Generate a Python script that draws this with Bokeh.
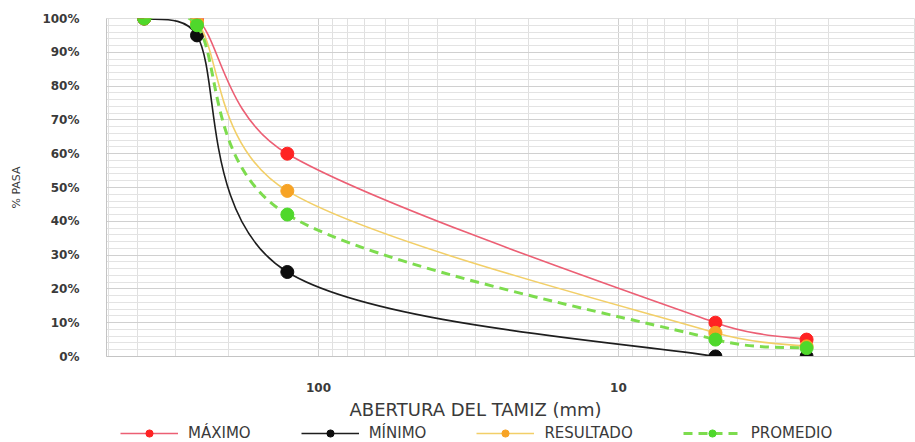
import numpy as np
from bokeh.plotting import figure
from bokeh.layouts import column
from bokeh.models import (Range1d, FixedTicker, PrintfTickFormatter, Legend,
                          LegendItem, Title)
from bokeh.embed import file_html
from bokeh.resources import INLINE

# ---- data -------------------------------------------------------------
sieve_mm = [381, 254, 127, 4.75, 2.36]
maximo = [100, 100, 60, 10, 5]
minimo = [100, 95, 25, 0, 0]
resultado = [100, 99, 49, 7, 3]
promedio = [100, 98, 42, 5, 2.5]

series_names = ["MÁXIMO", "MÍNIMO", "RESULTADO", "PROMEDIO"]
y_ticks = [0, 10, 20, 30, 40, 50, 60, 70, 80, 90, 100]
x_ticks = [1, 10, 100]

FONT = "DejaVu Sans"
TXT = "#3a3a3a"

# pixel aspect used only for the smoothing of the connecting curves
PX_PER_DECADE = 300.0
PX_PER_PCT = 3.38


def smooth_segments(xs, ys, k=0.45):
    """Excel-like smoothed line: bezier control points from neighbours,
    computed in (log10 x, y) and limited relative to each segment length."""
    lx = np.log10(np.asarray(xs, dtype=float))
    yy = np.asarray(ys, dtype=float)
    P = np.column_stack([lx * PX_PER_DECADE, yy * PX_PER_PCT])
    n = len(P)
    out = dict(x0=[], y0=[], x1=[], y1=[], cx0=[], cy0=[], cx1=[], cy1=[])
    for i in range(n - 1):
        p0 = P[max(i - 1, 0)]
        p1 = P[i]
        p2 = P[i + 1]
        p3 = P[min(i + 2, n - 1)]
        seg = np.linalg.norm(p2 - p1)
        v1 = (p2 - p0) / 6.0
        v2 = (p3 - p1) / 6.0
        for v in (v1, v2):
            L = np.linalg.norm(v)
            if L > k * seg and L > 0:
                v *= k * seg / L
        c1 = p1 + v1
        c2 = p2 - v2
        out["x0"].append(10 ** (p1[0] / PX_PER_DECADE)); out["y0"].append(p1[1] / PX_PER_PCT)
        out["x1"].append(10 ** (p2[0] / PX_PER_DECADE)); out["y1"].append(p2[1] / PX_PER_PCT)
        out["cx0"].append(10 ** (c1[0] / PX_PER_DECADE)); out["cy0"].append(c1[1] / PX_PER_PCT)
        out["cx1"].append(10 ** (c2[0] / PX_PER_DECADE)); out["cy1"].append(c2[1] / PX_PER_PCT)
    return out


p = figure(width=915, height=422, x_axis_type="log",
           x_range=Range1d(508.8, 1.023), y_range=Range1d(0, 100),
           output_backend="svg", toolbar_location=None,
           min_border_left=106, min_border_right=0, min_border_top=18,
           min_border_bottom=66)

p.background_fill_color = "white"
p.border_fill_color = "white"
p.outline_line_color = "#dedede"

# grid
p.xaxis.ticker = FixedTicker(ticks=x_ticks,
                             minor_ticks=[2, 3, 4, 5, 6, 7, 8, 9,
                                          20, 30, 40, 50, 60, 70, 80, 90,
                                          200, 300, 400, 500])
p.yaxis.ticker = FixedTicker(ticks=y_ticks,
                             minor_ticks=list(range(0, 101, 2)))
p.xgrid.grid_line_color = "#d0d0d0"
p.xgrid.minor_grid_line_color = "#e0e0e0"
p.ygrid.grid_line_color = "#d0d0d0"
p.ygrid.minor_grid_line_color = "#e3e3e3"

# axes
for ax in (p.xaxis, p.yaxis):
    ax.major_tick_line_color = None
    ax.minor_tick_line_color = None
    ax.major_label_text_font = FONT
    ax.major_label_text_font_size = "12px"
    ax.major_label_text_font_style = "bold"
    ax.major_label_text_color = TXT
    ax.axis_line_color = "#c4c4c4"

p.xaxis.formatter = PrintfTickFormatter(format="%d")
p.yaxis.formatter = PrintfTickFormatter(format="%d%%")
p.xaxis.major_label_standoff = 20
p.yaxis.major_label_standoff = 21

p.yaxis.axis_label = "% PASA"
p.yaxis.axis_label_text_font = FONT
p.yaxis.axis_label_text_font_size = "11px"
p.yaxis.axis_label_text_font_style = "normal"
p.yaxis.axis_label_text_color = TXT
p.yaxis.axis_label_standoff = 16

# series
all_series = [maximo, minimo, resultado, promedio]
styles = [
    dict(line="#ec5f74", dot="#ff2323", dash="solid", lw=1.6),
    dict(line="#1e1e1e", dot="#0d0d0d", dash="solid", lw=1.6),
    dict(line="#f2cf68", dot="#f7a325", dash="solid", lw=1.6),
    dict(line="#7ddc4e", dot="#4fd82b", dash="9 6", lw=3.0),
]
for ys, st in zip(all_series, styles):
    seg = smooth_segments(sieve_mm, ys)
    p.bezier(x0=seg["x0"], y0=seg["y0"], x1=seg["x1"], y1=seg["y1"],
             cx0=seg["cx0"], cy0=seg["cy0"], cx1=seg["cx1"], cy1=seg["cy1"],
             line_color=st["line"], line_width=st["lw"], line_dash=st["dash"])
    p.scatter(sieve_mm, ys, size=13, fill_color=st["dot"], line_color=st["dot"])

xtitle = Title(text="ABERTURA DEL TAMIZ (mm)", align="left", offset=243,
               text_font=FONT, text_font_size="18px", text_font_style="normal",
               text_color=TXT, standoff=5)
p.add_layout(xtitle, "below")

# ---- legend strip (series re-plotted outside its visible ranges) ------
lg = figure(width=915, height=20, x_range=Range1d(-2, -1), y_range=Range1d(-2, -1),
            output_backend="svg", toolbar_location=None,
            min_border_left=0, min_border_right=0, min_border_top=0,
            min_border_bottom=0)
lg.axis.visible = False
lg.grid.visible = False
lg.outline_line_color = None
lg.background_fill_color = "white"
lg.border_fill_color = "white"

items = []
for name, ys, st in zip(series_names, all_series, styles):
    lr = lg.line(x=sieve_mm, y=ys, line_color=st["line"], line_width=st["lw"],
                 line_dash=st["dash"])
    sr = lg.scatter(x=sieve_mm, y=ys, size=13, fill_color=st["dot"],
                    line_color=st["dot"])
    items.append(LegendItem(label=name, renderers=[lr, sr]))

legend = Legend(items=items, orientation="horizontal", location=(14, 0),
                glyph_width=58, glyph_height=18, label_standoff=10, spacing=50,
                padding=1, margin=0, border_line_color=None,
                background_fill_alpha=0,
                label_text_font=FONT, label_text_font_size="15px",
                label_text_color=TXT)
lg.add_layout(legend, "center")

open("out.html", "w").write(file_html(column(p, lg, spacing=0), INLINE))
